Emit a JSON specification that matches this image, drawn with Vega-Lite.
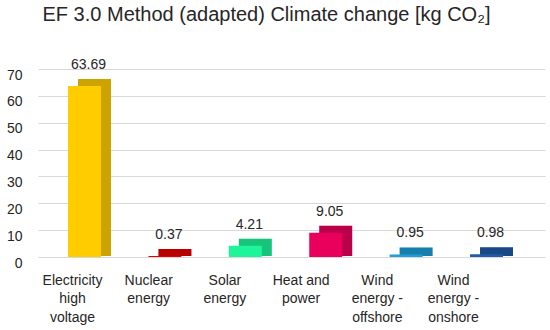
{
  "$schema": "https://vega.github.io/schema/vega-lite/v6.json",
  "width": 507,
  "height": 188,
  "autosize": {"type": "none"},
  "padding": {"left": 38, "top": 69, "right": 5, "bottom": 73},
  "title": {
    "text": "EF 3.0 Method (adapted) Climate change [kg CO₂]",
    "font": "Liberation Sans",
    "fontSize": 20,
    "fontWeight": "normal",
    "color": "#262626",
    "anchor": "middle",
    "dx": -25,
    "offset": 33
  },
  "config": {"view": {"stroke": null}, "font": "Liberation Sans"},
  "data": {
    "values": [
      {"source": "Electricity high voltage", "value": 63.69},
      {"source": "Nuclear energy", "value": 0.37},
      {"source": "Solar energy", "value": 4.21},
      {"source": "Heat and power", "value": 9.05},
      {"source": "Wind energy - offshore", "value": 0.95},
      {"source": "Wind energy - onshore", "value": 0.98}
    ]
  },
  "layer": [
    {
      "encoding": {
        "x": {
          "field": "source",
          "type": "nominal",
          "sort": null,
          "scale": {"type": "band", "paddingInner": 0.59, "paddingOuter": 0.448, "align": 0.417},
          "axis": null
        },
        "y": {
          "field": "value",
          "type": "quantitative",
          "scale": {"domain": [0, 70], "nice": false},
          "axis": {
            "values": [0, 10, 20, 30, 40, 50, 60, 70],
            "grid": true,
            "gridColor": "#d9d9d9",
            "gridWidth": 1.2,
            "domain": false,
            "ticks": false,
            "labelPadding": 16,
            "labelOffset": 6,
            "labelFontSize": 14,
            "labelColor": "#262626",
            "title": null
          }
        }
      },
      "layer": [
        {
          "mark": {"type": "bar", "xOffset": 10, "yOffset": -7, "y2Offset": -1},
          "encoding": {
            "y2": {"datum": 0},
            "color": {
              "field": "source",
              "type": "nominal",
              "scale": {
                "domain": ["Electricity high voltage", "Nuclear energy", "Solar energy", "Heat and power", "Wind energy - offshore", "Wind energy - onshore"],
                "range": ["#FFCC00", "#E60000", "#1EF59A", "#E8005C", "#1E9FD8", "#1F5CA8"]
              },
              "legend": null
            }
          }
        },
        {
          "mark": {"type": "bar", "xOffset": 10, "yOffset": -7, "y2Offset": -1, "color": "#000000", "opacity": 0.2},
          "encoding": {"y2": {"datum": 0}}
        },
        {
          "mark": {"type": "bar"},
          "encoding": {
            "color": {"field": "source", "type": "nominal", "legend": null}
          }
        },
        {
          "mark": {"type": "text", "dy": -21, "dx": 4, "baseline": "middle", "fontSize": 14, "color": "#262626"},
          "encoding": {
            "text": {"field": "value", "type": "quantitative", "format": ".2f"}
          }
        }
      ]
    },
    {
      "mark": {"type": "text", "text": ""},
      "encoding": {
        "x": {
          "field": "source",
          "type": "nominal",
          "sort": null,
          "scale": {"type": "point", "padding": 0.827, "align": 0.27},
          "axis": {
            "title": null,
            "domain": false,
            "ticks": false,
            "grid": false,
            "labelAngle": 0,
            "labelFontSize": 14,
            "labelColor": "#262626",
            "labelPadding": 16,
            "labelLineHeight": 18.5,
            "labelBaseline": "top",
            "labelExpr": "datum.value == 'Electricity high voltage' ? ['Electricity', 'high', 'voltage'] : datum.value == 'Heat and power' ? ['Heat and', 'power'] : datum.value == 'Wind energy - offshore' ? ['Wind', 'energy -', 'offshore'] : datum.value == 'Wind energy - onshore' ? ['Wind', 'energy -', 'onshore'] : split(datum.value, ' ')"
          }
        }
      }
    }
  ],
  "resolve": {"scale": {"x": "independent"}}
}
